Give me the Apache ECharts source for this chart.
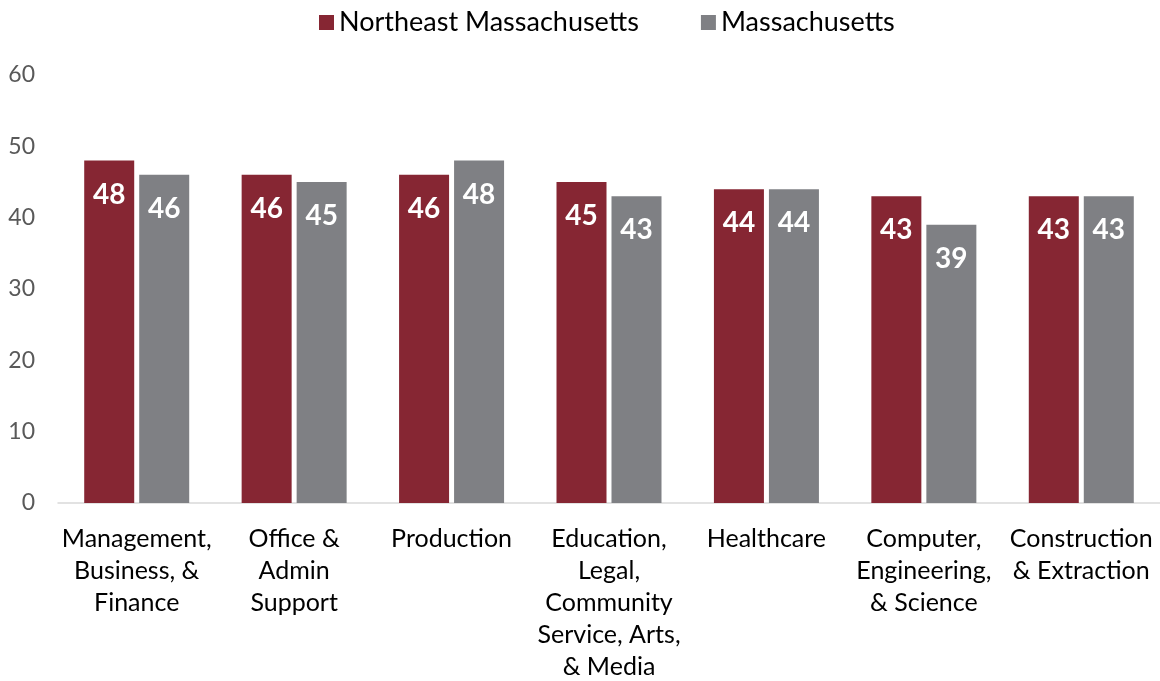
<!DOCTYPE html>
<html><head><meta charset="utf-8">
<script src="https://cdn.jsdelivr.net/npm/echarts@6/dist/echarts.min.js"></script>
<style>html,body{margin:0;padding:0;background:#fff}#c{width:1160px;height:681px}</style>
</head><body><div id="c"></div>
<script>
const categories = ["Management,\nBusiness, &\nFinance","Office &\nAdmin\nSupport","Production","Education,\nLegal,\nCommunity\nService, Arts,\n& Media","Healthcare","Computer,\nEngineering,\n& Science","Construction\n& Extraction"];
const northeast = [48,46,46,45,44,43,43];
const massachusetts = [46,45,48,43,44,39,43];
const yTicks = [0,10,20,30,40,50,60];
const FONT = 'Lato';
const chart = echarts.init(document.getElementById('c'));
const lbl = {show:true,position:'insideTop',distance:20,color:'#fff',fontFamily:FONT,fontWeight:'bold',fontSize:28};
chart.setOption({
  animation:false,
  textStyle:{fontFamily:FONT},
  legend:{top:4,left:314,itemWidth:15,itemHeight:15,itemGap:62,icon:'rect',
    textStyle:{fontFamily:FONT,fontSize:27,color:'#000'}},
  grid:{left:58,right:0,top:75,bottom:178,containLabel:false,outerBoundsMode:'none'},
  xAxis:{type:'category',data:categories,
    axisLine:{lineStyle:{color:'#d9d9d9',width:1.5}},axisTick:{show:false},
    axisLabel:{interval:0,fontFamily:FONT,fontSize:25,color:'#000',lineHeight:32,margin:20}},
  yAxis:{type:'value',min:yTicks[0],max:yTicks[yTicks.length-1],interval:10,
    splitLine:{show:false},axisLine:{show:false},axisTick:{show:false},
    axisLabel:{fontFamily:FONT,fontSize:23,color:'#595959',margin:23}},
  series:[
    {name:'Northeast Massachusetts',type:'bar',data:northeast,barWidth:50,barGap:'10%',
      itemStyle:{color:'#862633'},label:lbl},
    {name:'Massachusetts',type:'bar',data:massachusetts,barWidth:50,barGap:'10%',
      itemStyle:{color:'#7f8084'},label:lbl}
  ]
});
</script></body></html>
